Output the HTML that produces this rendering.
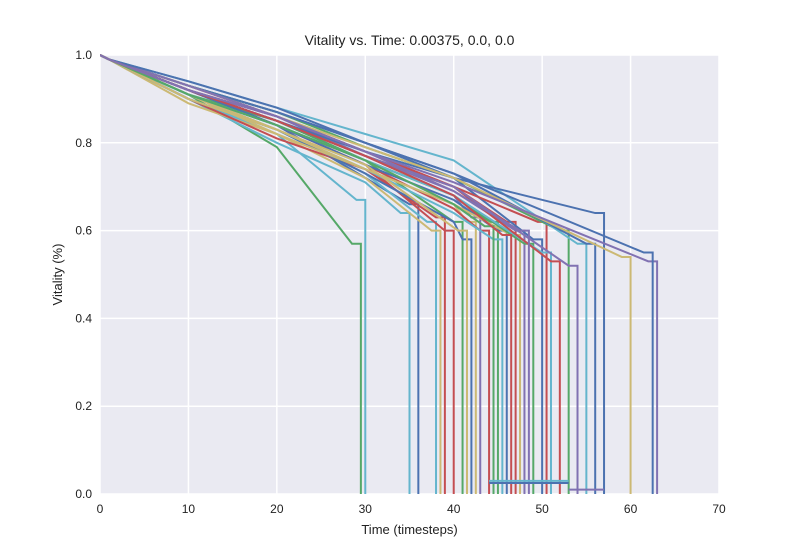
<!DOCTYPE html>
<html><head><meta charset="utf-8"><style>
body{margin:0;background:#fff;font-family:"Liberation Sans",Arial,sans-serif}
svg text{font-family:"Liberation Sans",Arial,sans-serif;fill:#222}
</style></head><body>
<svg id="c" width="800" height="550"></svg>
<script>
const xTicks=[0,10,20,30,40,50,60,70];
const yTicks=[0.0,0.2,0.4,0.6,0.8,1.0];
const deaths=[29.5,30,35,36,38,38.5,39,40,41,42,42.5,43,44,45,45.5,46,47,47.5,48,49,50,50.5,51,52,53,54,55,56,57,60,63,62.5,41.5,44.5,46.5,48.5];
const v10=[.91,.90,.90,.92,.91,.89,.90,.91,.92,.90,.91,.93,.92,.91,.90,.92,.93,.91,.92,.91,.93,.92,.91,.92,.93,.92,.94,.93,.92,.93,.93,.94,.90,.91,.92,.92];
const v20=[.79,.82,.80,.84,.83,.82,.81,.84,.85,.83,.82,.86,.84,.85,.83,.84,.86,.83,.85,.84,.87,.85,.84,.86,.87,.85,.88,.87,.85,.86,.86,.88,.83,.84,.85,.86];
const v30=[.62,.68,.71,.72,.73,.72,.74,.75,.76,.73,.74,.77,.75,.76,.74,.75,.78,.74,.77,.76,.80,.77,.76,.78,.79,.77,.82,.80,.78,.79,.78,.80,.75,.76,.77,.78];
const v40=[0,0,0,0,0,0,0,0,0,.62,.66,.68,.65,.68,.64,.67,.70,.66,.69,.68,.72,.70,.68,.70,.72,.70,.76,.73,.72,.72,.71,.73,.64,.66,.68,.69];
const vEnd=[.57,.67,.64,.66,.62,.60,.63,.60,.62,.58,.62,.63,.60,.62,.58,.60,.62,.59,.60,.57,.58,.62,.55,.53,.60,.52,.57,.57,.64,.54,.53,.55,.60,.61,.59,.60];
const tailX0=[44,44,53];
const tailX1=[53,53,57];
const tailV=[0.03,0.025,0.01];
const colors=["#55A868","#64B5CD","#64B5CD","#4C72B0","#64B5CD","#CCB974","#C44E52","#C44E52","#55A868","#4C72B0","#CCB974","#8172B2","#C44E52","#55A868","#64B5CD","#4C72B0","#C44E52","#CCB974","#8172B2","#55A868","#4C72B0","#C44E52","#64B5CD","#C44E52","#55A868","#8172B2","#64B5CD","#4C72B0","#4C72B0","#CCB974","#8172B2","#4C72B0","#CCB974","#55A868","#C44E52","#8172B2"];
const tailC=["#64B5CD","#4C72B0","#8172B2"];
const L=100,R=719,T=55,B=494;
const X=t=>L+(t/70)*(R-L), Y=v=>B-v*(B-T);
const svg=document.getElementById('c');const NS="http://www.w3.org/2000/svg";
function mk(tag,a){const e=document.createElementNS(NS,tag);for(const k in a)e.setAttribute(k,a[k]);svg.appendChild(e);return e;}
const bg=mk('rect',{x:L,y:T,width:R-L,height:B-T,fill:'#EAEAF2'});


xTicks.forEach(t=>{const g=mk('line',{x1:X(t),x2:X(t),y1:T,y2:B,stroke:'#fff','stroke-width':1.5});


const tx=mk('text',{x:X(t),y:B+19,'text-anchor':'middle','font-size':12});tx.textContent=t;

});
yTicks.forEach(v=>{const g=mk('line',{x1:L,x2:R,y1:Y(v),y2:Y(v),stroke:'#fff','stroke-width':1.5});


const tx=mk('text',{x:L-8,y:Y(v)+4,'text-anchor':'end','font-size':12});tx.textContent=v.toFixed(1);

});
const clip=mk('clipPath',{id:'cp'});const cr=document.createElementNS(NS,'rect');
cr.setAttribute('x',L);cr.setAttribute('y',T-2);cr.setAttribute('width',R-L);cr.setAttribute('height',B-T+2);clip.appendChild(cr);
const gl=mk('g',{'clip-path':'url(#cp)'});
deaths.forEach((d,i)=>{
 const pts=[[0,1],[1,0.99],[10,v10[i]],[20,v20[i]],[30,v30[i]],[40,v40[i]]].filter(p=>p[0]<d-1.5);
 pts.push([d-1,vEnd[i]]);pts.push([d,vEnd[i]]);pts.push([d,0]);
 const p=document.createElementNS(NS,'polyline');
 p.setAttribute('points',pts.map(q=>X(q[0])+','+Y(q[1])).join(' '));
 p.setAttribute('fill','none');p.setAttribute('stroke',colors[i%colors.length]);p.setAttribute('stroke-width',2);
 
 
 gl.appendChild(p);
});
tailX0.forEach((x0,i)=>{const p=document.createElementNS(NS,'polyline');
 p.setAttribute('points',X(x0)+','+Y(tailV[i])+' '+X(tailX1[i])+','+Y(tailV[i]));
 p.setAttribute('fill','none');p.setAttribute('stroke',tailC[i]);p.setAttribute('stroke-width',2);
 
 
 gl.appendChild(p);});
const t1=mk('text',{x:(L+R)/2,y:45,'text-anchor':'middle','font-size':14});t1.textContent='Vitality vs. Time: 0.00375, 0.0, 0.0';


const t2=mk('text',{x:(L+R)/2,y:534,'text-anchor':'middle','font-size':13});t2.textContent='Time (timesteps)';


const t3=mk('text',{x:62,y:(T+B)/2,'text-anchor':'middle','font-size':13,transform:`rotate(-90 62 ${(T+B)/2})`});t3.textContent='Vitality (%)';


</script>
</body></html>
